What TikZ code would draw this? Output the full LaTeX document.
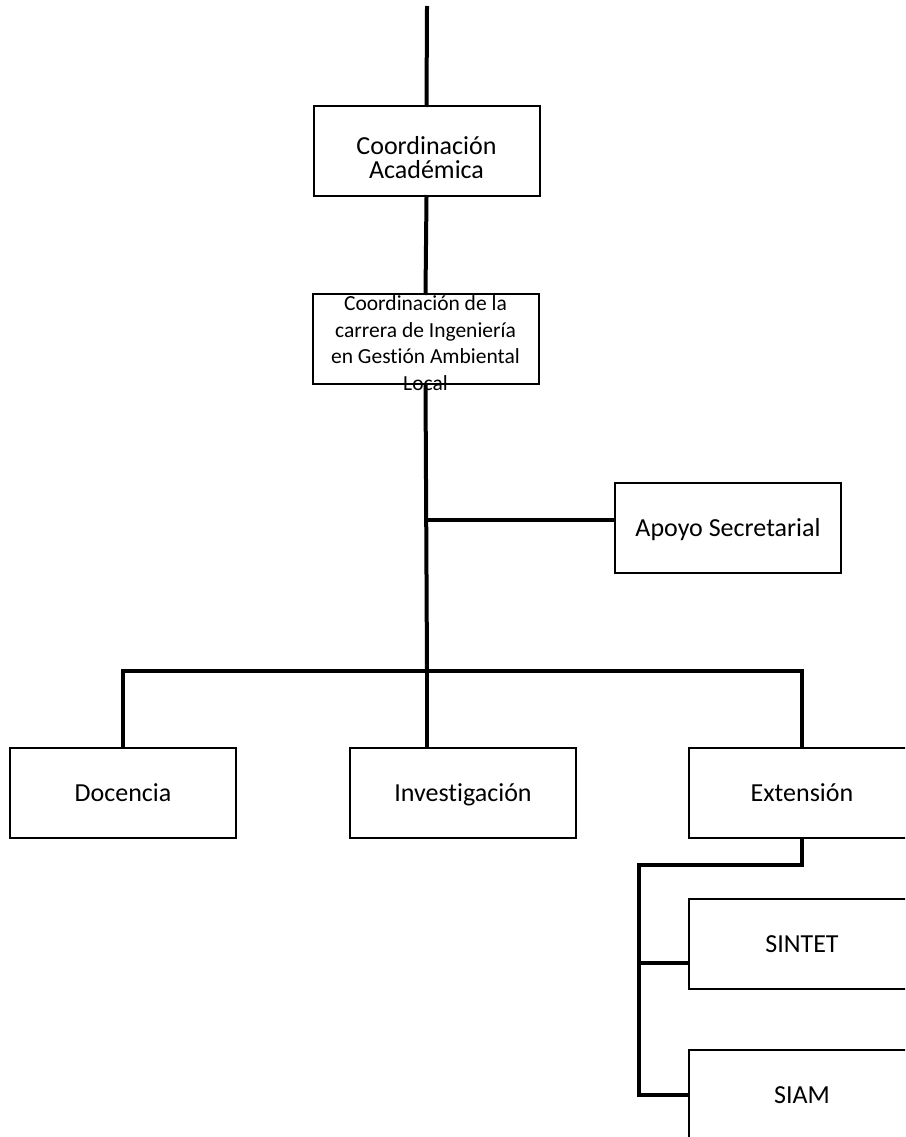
\documentclass[tikz,border=0pt]{standalone}
\usepackage{fontspec}
\setmainfont{Carlito}[Ligatures=NoCommon]
\begin{document}
\begin{tikzpicture}[x=1pt,y=-1pt,
  box/.style={draw=black,line width=2pt,fill=white,rectangle,
    minimum width=226pt,minimum height=90pt,inner sep=0pt,
    text height=16.7pt,text depth=0pt,
    font=\fontsize{26}{24}\selectfont},
  bigtext/.style={font=\fontsize{26}{24}\selectfont,align=center,inner sep=0pt},
  smalltext/.style={font=\fontsize{21.5}{26.5}\selectfont,align=center,inner sep=0pt},
  conn/.style={line width=4pt,line cap=rect}]
\useasboundingbox (0,0) rectangle (905,1137);
\clip (0,0) rectangle (905,1137);

% boxes
\node[box] (ca) at (426.5,151) {};
\node[bigtext] (cat) at (426.5,158) {Coordinación\\Académica};
\node[box] (cc) at (425.5,339) {};
\node[smalltext] (cct) at (425.5,343) {Coordinación de la\\carrera de Ingeniería\\en Gestión Ambiental\\Local};
\node[box] (apoyo) at (728,528) {Apoyo Secretarial};
\node[box] (doc) at (123,793) {Docencia};
\node[box] (inv) at (463,793) {Investigación};
\node[box] (ext) at (802,793) {Extensión};
\node[box] (sintet) at (802,944) {SINTET};
\node[box] (siam) at (802,1095) {SIAM};

% junction points
\coordinate (top) at (427,8);
\coordinate (apj) at (427,520);
\coordinate (busc) at (427,671);
\coordinate (ej) at (639,865);
\coordinate (sj) at (639,963);

% connectors
\draw[conn] (top) -- (ca.north);
\draw[conn] (ca.south) -- (cc.north);
\draw[conn] (cc.south) -- (busc);
\draw[conn] (apj) -- (apj -| apoyo.west);
\draw[conn] (doc.north) |- (busc) -| (ext.north);
\draw[conn] (busc) -- (busc |- inv.north);
\draw[conn] (ext.south) |- (ej) |- (siam.west);
\draw[conn] (sj) -- (sj -| sintet.west);
\end{tikzpicture}
\end{document}
